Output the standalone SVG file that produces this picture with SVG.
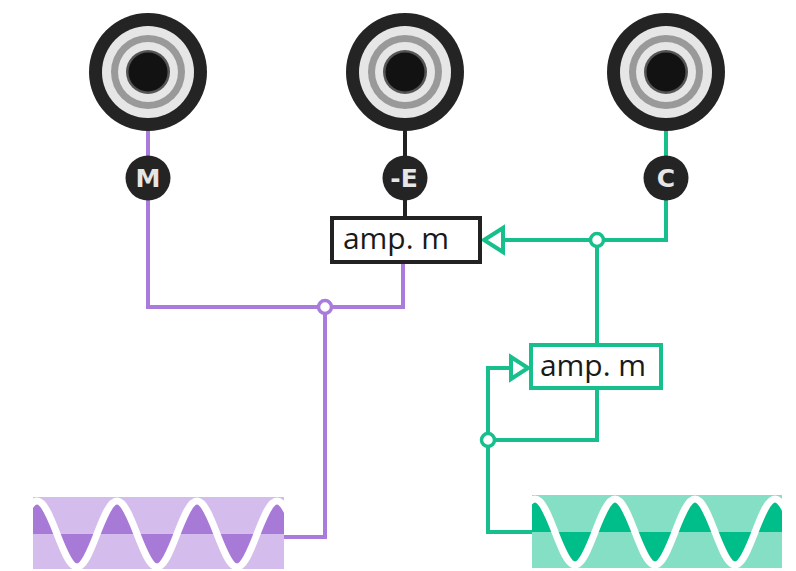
<svg xmlns="http://www.w3.org/2000/svg" xmlns:xlink="http://www.w3.org/1999/xlink" width="796" height="571" viewBox="0 0 796 571">
<style>
.lbl{font-family:"DejaVu Sans",sans-serif;font-weight:bold;font-size:25px;fill:#e6e6e6;text-anchor:middle}
.amp{font-family:"Open Sans","Noto Sans",sans-serif;font-size:30px;fill:#1a1a1a;text-anchor:middle}
.pw{fill:none;stroke:#a97cdc;stroke-width:4}
.gw{fill:none;stroke:#17bf8d;stroke-width:4}
.kw{fill:none;stroke:#222;stroke-width:4}
.wave{fill:none;stroke:#fff;stroke-width:7}
</style>
<defs>
<g id="jack">
<circle r="59" fill="#242424"/>
<circle r="46" fill="#e6e6e6"/>
<circle r="37" fill="#999"/>
<circle r="30" fill="#e6e6e6"/>
<circle r="22" fill="#555"/>
<circle r="19.5" fill="#121212"/>
</g>
<path id="sine" d="M0,0 C6.52,-16.9 12.79,-33 20,-33 S33.48,-16.9 40,0 S52.79,33 60,33 S73.48,16.9 80,0 S92.79,-33 100,-33 S113.48,-16.9 120,0 S132.79,33 140,33 S153.48,16.9 160,0 S172.79,-33 180,-33 S193.48,-16.9 200,0 S212.79,33 220,33 S233.48,16.9 240,0 S252.79,-33 260,-33 S273.48,-16.9 280,0 S292.79,33 300,33 S313.48,16.9 320,0"/>
<clipPath id="cp"><rect x="532" y="495" width="250" height="73"/></clipPath>
<clipPath id="pp"><rect x="33" y="497" width="251" height="72"/></clipPath>
</defs>

<g id="connectors">
<line class="pw" x1="148" y1="130" x2="148" y2="160"/>
<polyline class="pw" points="148,196 148,307 403,307 403,262"/>
<polyline class="pw" points="325,314 325,537 284,537"/>
<line class="kw" x1="405" y1="130" x2="405" y2="160"/>
<line class="kw" x1="405" y1="196" x2="405" y2="218"/>
<line class="gw" x1="666" y1="130" x2="666" y2="160"/>
<polyline class="gw" points="666,196 666,240 503,240"/>
<polygon points="484,240 503,228 503,252" fill="#fff" stroke="#17bf8d" stroke-width="4"/>
<line class="gw" x1="597" y1="247" x2="597" y2="345"/>
<polyline class="gw" points="597,388 597,440 495,440"/>
<polyline class="gw" points="488,433 488,368 511,368"/>
<polygon points="528,368 511,357 511,379" fill="#fff" stroke="#17bf8d" stroke-width="4"/>
<polyline class="gw" points="488,447 488,532 532,532"/>
<circle cx="325" cy="307" r="6.5" fill="#fff" stroke="#a97cdc" stroke-width="3.5"/>
<circle cx="597" cy="240" r="6.5" fill="#fff" stroke="#17bf8d" stroke-width="3.5"/>
<circle cx="488" cy="440" r="6.5" fill="#fff" stroke="#17bf8d" stroke-width="3.5"/>
</g>

<g id="jack-m"><use xlink:href="#jack" x="148" y="72"/></g>
<g id="jack-e"><use xlink:href="#jack" x="405" y="72"/></g>
<g id="jack-c"><use xlink:href="#jack" x="666" y="72"/></g>

<g id="label-m"><circle cx="148" cy="178" r="22.5" fill="#242424"/><text class="lbl" x="148" y="187">M</text></g>
<g id="label-e"><circle cx="405" cy="178" r="22.5" fill="#242424"/><text class="lbl" x="404" y="187">-E</text></g>
<g id="label-c"><circle cx="666" cy="178" r="22.5" fill="#242424"/><text class="lbl" x="666" y="187">C</text></g>

<g id="amp-top">
<rect x="332" y="218" width="148" height="44" fill="#fff" stroke="#222" stroke-width="4"/>
<text class="amp" x="396" y="249">amp. m</text>
</g>
<g id="amp-bottom">
<rect x="531" y="345" width="130" height="43" fill="#fff" stroke="#17bf8d" stroke-width="4"/>
<text class="amp" x="593" y="376">amp. m</text>
</g>

<g id="wave-purple" clip-path="url(#pp)">
<rect x="33" y="497" width="251" height="72" fill="#d4bdec"/>
<g transform="translate(17,534)">
<use xlink:href="#sine" fill="#a87ad8" stroke="none"/>
<use xlink:href="#sine" class="wave"/>
</g>
</g>
<g id="wave-green" clip-path="url(#cp)">
<rect x="532" y="495" width="250" height="73" fill="#84dfc5"/>
<g transform="translate(515,532)">
<use xlink:href="#sine" fill="#00be8a" stroke="none"/>
<use xlink:href="#sine" class="wave"/>
</g>
</g>
</svg>
